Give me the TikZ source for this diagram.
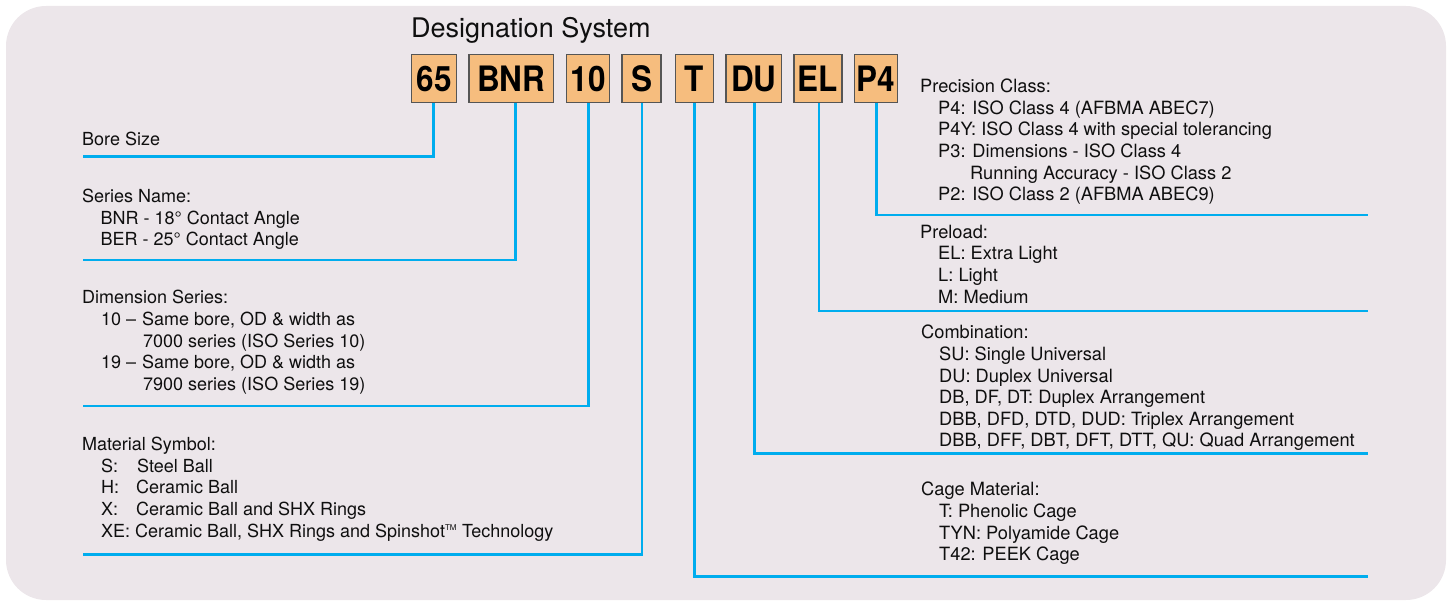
\documentclass[tikz,border=0pt]{standalone}
\usepackage{fontspec}
\setmainfont{TeX Gyre Heros}
\usetikzlibrary{calc}
\definecolor{bgc}{RGB}{236,230,234}
\definecolor{boxfill}{RGB}{246,189,126}
\definecolor{boxline}{RGB}{85,85,85}
\definecolor{cyanl}{RGB}{0,173,238}
\definecolor{ink}{RGB}{15,15,15}
\begin{document}
\begin{tikzpicture}[x=1pt,y=-1pt,
  txt/.style={anchor=base west,inner sep=0pt,font=\fontsize{18}{21.6}\selectfont,text=ink},
  rtxt/.style={txt,font=\fontsize{18.25}{21.6}\selectfont},
  codebox/.style={draw=boxline,line width=1.1pt,fill=boxfill,inner sep=0pt,minimum height=48.4pt,
    font=\fontsize{35}{35}\selectfont\bfseries,text=black},
  conn/.style={draw=cyanl,line width=2.6pt}]
\useasboundingbox (0,0) rectangle (1449,601);
\fill[bgc,rounded corners=40pt] (6,6) rectangle (1446,600);

\node[anchor=base west,inner sep=0pt,font=\fontsize{27}{27}\selectfont,text=ink] (title) at (411,38) {Designation System};

% code boxes
\node[codebox,minimum width=45pt]   (b65)  at (434.2,78.5) {\scalebox{0.9}[1]{65}};
\node[codebox,minimum width=84.7pt] (bBNR) at (511.3,78.5) {\scalebox{0.9}[1]{BNR}};
\node[codebox,minimum width=42.6pt] (b10)  at (588,78.5)   {\scalebox{0.9}[1]{10}};
\node[codebox,minimum width=39pt]   (bS)   at (641.5,78.5) {\scalebox{0.9}[1]{S}};
\node[codebox,minimum width=38.3pt] (bT)   at (694.2,78.5) {\scalebox{0.9}[1]{T}};
\node[codebox,minimum width=55.7pt] (bDU)  at (753.8,78.5) {\scalebox{0.9}[1]{DU}};
\node[codebox,minimum width=48pt]   (bEL)  at (818,78.5)   {\scalebox{0.9}[1]{EL}};
\node[codebox,minimum width=43pt]   (bP4)  at (875.8,78.5) {\scalebox{0.9}[1]{P4}};

% line ends
\coordinate (e65)  at (83,156.7);
\coordinate (eBNR) at (83,260);
\coordinate (e10)  at (83,406);
\coordinate (eS)   at (83,554.3);
\coordinate (eT)   at (1368,576.7);
\coordinate (eDU)  at (1368,453.3);
\coordinate (eEL)  at (1368,311);
\coordinate (eP4)  at (1368,215);

\draw[conn] ([xshift=-0.8pt]b65.south) |- (e65);
\draw[conn] ([xshift=4.4pt]bBNR.south) |- (eBNR);
\draw[conn] ([xshift=0.6pt]b10.south) |- (e10);
\draw[conn] ([xshift=0.6pt]bS.south) |- (eS);
\draw[conn] (bT.south) |- (eT);
\draw[conn] ([xshift=0.6pt]bDU.south) |- (eDU);
\draw[conn] ([xshift=0.8pt]bEL.south) |- (eEL);
\draw[conn] ([xshift=0.8pt]bP4.south) |- (eP4);

% left texts
\node[txt] (l1)  at (82,146)    {Bore Size};
\node[txt] (l2)  at (82,202.7)  {Series Name:};
\node[txt] (l3)  at (100.5,224.3) {BNR - 18° Contact Angle};
\node[txt] (l4)  at (100.5,246) {BER - 25° Contact Angle};
\node[txt] (l5)  at (82,304)    {Dimension Series:};
\node[txt] (l6a) at (101,325.6) {10 –};
\node[txt] (l6b) at (142,325.6) {Same bore, OD \& width as};
\node[txt] (l7)  at (143,347.2) {7000 series (ISO Series 10)};
\node[txt] (l8a) at (101,368.8) {19 –};
\node[txt] (l8b) at (142,368.8) {Same bore, OD \& width as};
\node[txt] (l9)  at (143,390.4) {7900 series (ISO Series 19)};
\node[txt] (l10) at (82,450.7)  {Material Symbol:};
\node[txt] (l11a) at (101,472.3) {S:};
\node[txt] (l11b) at (137,472.3) {Steel Ball};
\node[txt] (l12a) at (101,493.9) {H:};
\node[txt] (l12b) at (136,493.9) {Ceramic Ball};
\node[txt] (l13a) at (101,515.5) {X:};
\node[txt] (l13b) at (136,515.5) {Ceramic Ball and SHX Rings};
\node[txt] (l14) at (101,537) {XE: Ceramic Ball, SHX Rings and Spinshot\textsuperscript{\fontsize{8}{8}\selectfont TM} Technology};

% right texts
\node[rtxt] (r1)  at (920,92.7)  {Precision Class:};
\node[rtxt] (r2)  at (938,114.3) {P4: ISO Class 4 (AFBMA ABEC7)};
\node[rtxt] (r3)  at (938,135.9) {P4Y: ISO Class 4 with special tolerancing};
\node[rtxt] (r4)  at (938,157.5) {P3: Dimensions - ISO Class 4};
\node[rtxt] (r5)  at (970,179.1) {Running Accuracy - ISO Class 2};
\node[rtxt] (r6)  at (938,200.7) {P2: ISO Class 2 (AFBMA ABEC9)};
\node[rtxt] (r7)  at (920,238.3) {Preload:};
\node[rtxt] (r8)  at (938,259.9) {EL: Extra Light};
\node[rtxt] (r9)  at (938,281.5) {L: Light};
\node[rtxt] (r10) at (938,303.1) {M: Medium};
\node[rtxt] (r11) at (921,339)   {Combination:};
\node[rtxt] (r12) at (939,360.6) {SU: Single Universal};
\node[rtxt] (r13) at (939,382.2) {DU: Duplex Universal};
\node[rtxt] (r14) at (939,403.8) {DB, DF, DT: Duplex Arrangement};
\node[rtxt] (r15) at (939,425.4) {DBB, DFD, DTD, DUD: Triplex Arrangement};
\node[rtxt] (r16) at (939,447)   {DBB, DFF, DBT, DFT, DTT, QU: Quad Arrangement};
\node[rtxt] (r17) at (921,496)   {Cage Material:};
\node[rtxt] (r18) at (939,517.6) {T: Phenolic Cage};
\node[rtxt] (r19) at (939,539.2) {TYN: Polyamide Cage};
\node[rtxt] (r20) at (939,560.8) {T42: PEEK Cage};
\end{tikzpicture}
\end{document}
